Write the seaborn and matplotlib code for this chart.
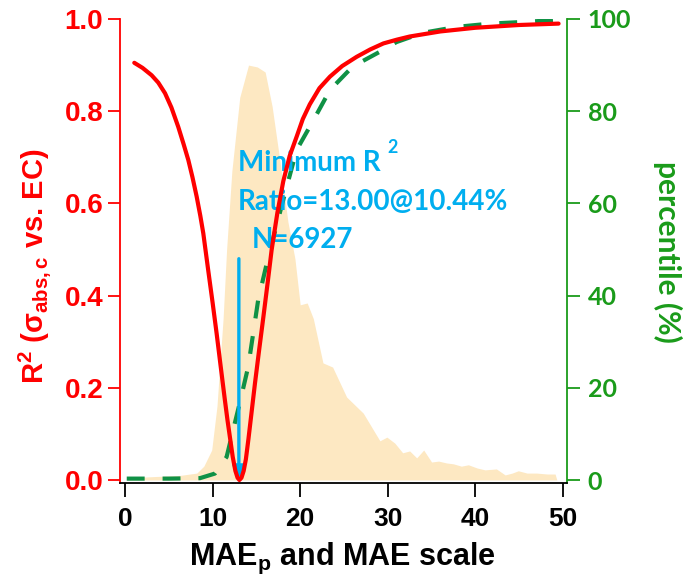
import numpy as np
import pandas as pd
import matplotlib
matplotlib.use("Agg")
import matplotlib.pyplot as plt
import seaborn as sns

# ---- data ----
ratio_x = [1.06, 2.0, 3.04, 3.8, 4.57, 5.3, 6.08, 6.7, 7.23, 7.7, 8.18, 8.6, 8.94, 9.5,
           10.0, 10.46, 10.9, 11.4, 11.7, 12.0, 12.3, 12.6, 12.85, 13.06, 13.3, 13.55,
           13.8, 14.1, 14.84, 15.3, 15.8, 16.3, 16.74, 17.4, 18.07, 18.8, 19.6, 20.3,
           21.1, 22.2, 23.4, 24.8, 26.45, 28.0, 29.5, 31.0, 32.5, 36.0, 40.0, 45.0, 49.5]
r2_y = [0.905, 0.894, 0.878, 0.862, 0.839, 0.808, 0.766, 0.728, 0.694, 0.657, 0.615, 0.573,
        0.535, 0.455, 0.385, 0.318, 0.25, 0.174, 0.13, 0.09, 0.05, 0.02, 0.005, 0.0, 0.005,
        0.02, 0.045, 0.09, 0.21, 0.28, 0.354, 0.43, 0.499, 0.58, 0.648, 0.703, 0.745,
        0.783, 0.815, 0.85, 0.875, 0.898, 0.918, 0.934, 0.947, 0.955, 0.962, 0.973,
        0.981, 0.987, 0.99]

pct_x = [0.2, 5.0, 8.56, 10.27, 11.6, 12.75, 13.1, 14.07, 15.2, 16.36, 18.46, 19.6, 21.5,
         23.4, 26.0, 29.1, 31.0, 34.0, 37.9, 41.7, 45.9, 49.3]
pct_y = [0.3, 0.3, 0.4, 1.4, 5.0, 14.0, 16.7, 24.6, 39.0, 48.4, 63.6, 71.6, 78.0,
         84.6, 89.7, 92.9, 95.0, 97.0, 98.3, 99.0, 99.4, 99.8]

hist_x = [0.5, 4.0, 6.3, 8.2, 9.0, 9.9, 10.5, 11.2, 11.6, 12.2, 13.1, 14.1, 15.1, 16.0,
          16.8, 17.7, 18.6, 19.4, 20.0, 20.8, 21.5, 22.6, 23.7, 25.3, 27.2, 29.1, 29.9,
          30.8, 31.7, 32.5, 33.3, 34.1, 35.0, 35.8, 36.7, 37.5, 38.4, 39.2, 40.2, 41.1,
          42.4, 43.4, 44.2, 44.9, 45.9, 47.0, 48.2, 49.1, 49.3]
hist_y = [0.5, 0.8, 1.0, 1.5, 3.0, 6.5, 16.0, 35.0, 50.0, 67.0, 83.0, 90.0, 89.6, 88.5,
          81.0, 69.0, 56.0, 48.0, 38.0, 38.4, 35.0, 25.4, 24.5, 18.0, 14.5, 8.5, 9.3,
          8.0, 5.9, 6.3, 4.8, 6.5, 3.9, 4.1, 3.7, 3.5, 3.0, 3.3, 2.6, 2.2,
          2.4, 1.1, 1.5, 2.0, 1.5, 1.5, 1.3, 1.3, 0.0]

xticks = [0, 10, 20, 30, 40, 50]
left_ticks = [0.0, 0.2, 0.4, 0.6, 0.8, 1.0]
right_ticks = [0, 20, 40, 60, 80, 100]

min_ratio = 13.00
min_pct = 10.44
n_obs = 6927
arrow_top = 0.48

RED = "#FF0000"
GREEN_AX = "#1A9B1A"
GREEN_LINE = "#0F9145"
BLUE = "#00AEEF"
FILL = "#FDE8C2"

sns.set_theme(style="ticks")
plt.rcParams["font.family"] = ["Liberation Sans", "DejaVu Sans"]
plt.rcParams["font.weight"] = "bold"
plt.rcParams["mathtext.fontset"] = "custom"
plt.rcParams["mathtext.rm"] = "Liberation Sans:bold"
plt.rcParams["mathtext.it"] = "Liberation Sans:bold"
plt.rcParams["mathtext.bf"] = "Liberation Sans:bold"
plt.rcParams["mathtext.sf"] = "Liberation Sans:bold"

fig = plt.figure(figsize=(6.83, 5.83), dpi=100)
ax = fig.add_axes([120 / 683, 1 - 483 / 583, 447 / 683, 464 / 583])
ax2 = ax.twinx()
ax.set_zorder(2)
ax.patch.set_visible(False)
ax2.set_zorder(1)

# distribution (background fill)
ax2.fill_between(hist_x, hist_y, 0, color=FILL, lw=0)

# cumulative percentile (dashed green)
sns.lineplot(x=pct_x, y=pct_y, ax=ax2, color=GREEN_LINE, lw=3)
ax2.lines[-1].set_dashes([4.3, 4.3])

# R2 curve
sns.lineplot(x=ratio_x, y=r2_y, ax=ax, color=RED, lw=3)
ax.lines[-1].set_solid_joinstyle("round")
ax.lines[-1].set_solid_capstyle("round")

# annotation
ax.annotate("", xy=(min_ratio, 0.003), xytext=(min_ratio, arrow_top),
            arrowprops=dict(arrowstyle="-|>", color=BLUE, lw=2.4,
                            mutation_scale=18, shrinkA=0, shrinkB=0), zorder=1)
tfont = dict(family=["Lato", "DejaVu Sans"], weight="bold", size=20, color=BLUE)
ax.text(12.9, 0.688, "Minimum R", ha="left", va="center", zorder=1, **tfont)
ax.text(29.9, 0.722, "2", ha="left", va="center", zorder=1,
        **{**tfont, "size": 13})
ax.text(12.9, 0.603, f"Ratio={min_ratio:.2f}@{min_pct:.2f}%", ha="left", va="center",
        zorder=1, **tfont)
ax.text(14.5, 0.52, f"N={n_obs}", ha="left", va="center", zorder=1, **tfont)

# axes limits/ticks
ax.set_xlim(-0.57, 50.46)
ax.set_ylim(-0.0065, 1.0)
ax2.set_ylim(-0.65, 100)
ax.set_xticks(xticks)
ax.set_yticks(left_ticks)
ax2.set_yticks(right_ticks)
ax.set_yticklabels([f"{v:.1f}" for v in left_ticks])
ax.set_xticklabels([str(v) for v in xticks])
ax2.set_yticklabels([str(v) for v in right_ticks])

for s in ["top", "right"]:
    ax.spines[s].set_visible(False)
for s in ["top", "left", "bottom"]:
    ax2.spines[s].set_visible(False)
ax.spines["left"].set_color(RED)
ax.spines["left"].set_linewidth(1.3)
ax.spines["bottom"].set_color("black")
ax.spines["bottom"].set_linewidth(1.3)
ax2.spines["right"].set_color(GREEN_AX)
ax2.spines["right"].set_linewidth(1.3)

ax.tick_params(axis="y", colors=RED, direction="out", length=9, width=1.3, pad=3,
               labelsize=20)
ax.tick_params(axis="x", colors="black", direction="out", length=10, width=1.3, pad=7,
               labelsize=19)
ax2.tick_params(axis="y", colors=GREEN_AX, direction="out", length=9, width=1.3, pad=6,
                labelsize=18)
for lab in ax.get_yticklabels() + ax.get_xticklabels():
    lab.set_fontweight("bold")
for lab in ax2.get_yticklabels():
    lab.set_fontfamily(["Lato", "DejaVu Sans"])
    lab.set_fontweight("bold")
ax.grid(False)
ax2.grid(False)
ax.set_xlabel("")
ax.set_ylabel("")
ax2.set_ylabel("")

fig.text(342 / 683, 1 - 558 / 583, r"MAE$_\mathregular{p}$ and MAE scale", ha="center",
         va="center", fontsize=22, fontweight="bold", color="black")
fig.text(35 / 683, 1 - 266 / 583, r"R$^\mathregular{2}$ ($\mathregular{\sigma_{abs,c}}$ vs. EC)",
         ha="center", va="center", rotation=90, fontsize=21, fontweight="bold", color=RED)
fig.text(668 / 683, 1 - 252 / 583, "percentile (%)", ha="center", va="center",
         rotation=270, fontsize=21.5, fontweight="bold", color=GREEN_AX,
         family=["Lato", "DejaVu Sans"])

fig.savefig("out.png", dpi=100)
